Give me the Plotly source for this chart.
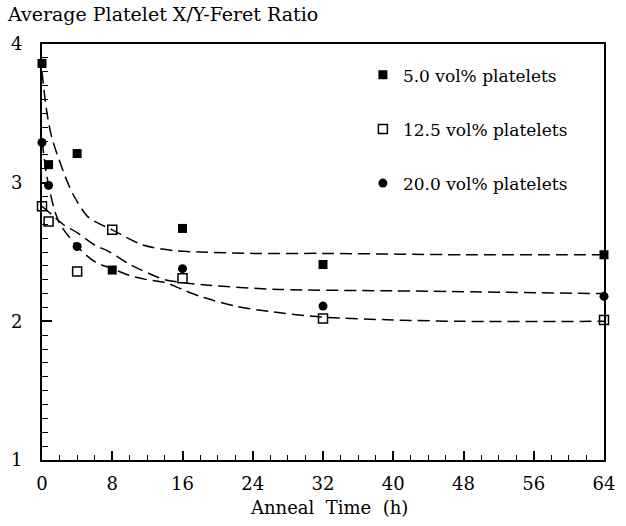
import plotly.graph_objects as go

# ---- data ----
t5 = [0, 0.75, 4, 8, 16, 32, 64]
y5 = [3.86, 3.13, 3.21, 2.37, 2.67, 2.41, 2.48]

t125 = [0, 0.75, 4, 8, 16, 32, 64]
y125 = [2.83, 2.72, 2.36, 2.66, 2.31, 2.02, 2.01]

t20 = [0, 0.75, 4, 16, 32, 64]
y20 = [3.29, 2.98, 2.54, 2.38, 2.11, 2.18]

# dashed fit curves
fit5_t = [0, 0.5, 1.1, 2.2, 3.5, 5.3, 8, 11.5, 15, 18, 24, 32, 48, 64]
fit5_y = [3.80, 3.53, 3.33, 3.12, 2.92, 2.75, 2.66, 2.55, 2.51, 2.50, 2.49, 2.49, 2.48, 2.48]

fitA_t = [0, 0.75, 1.9, 4, 6, 8, 10, 12, 14, 16, 18, 22, 26, 32, 40, 48, 64]
fitA_y = [3.30, 2.98, 2.72, 2.54, 2.43, 2.38, 2.33, 2.30, 2.28, 2.23, 2.18, 2.11, 2.07, 2.03, 2.01, 2.00, 2.00]

fitB_t = [0, 1.1, 2.6, 4, 6, 7.4, 8.5, 10, 12, 14, 16, 19, 27, 40, 64]
fitB_y = [2.83, 2.77, 2.69, 2.64, 2.55, 2.51, 2.47, 2.41, 2.35, 2.30, 2.28, 2.26, 2.23, 2.22, 2.20]

x_ticks = [0, 8, 16, 24, 32, 40, 48, 56, 64]
y_ticks = [1, 2, 3, 4]

names = ["5.0 vol% platelets", "12.5 vol% platelets", "20.0 vol% platelets"]

FONT = "DejaVu Serif"
dash = "12px,6px"

fig = go.Figure()
for ft, fy in [(fit5_t, fit5_y), (fitA_t, fitA_y), (fitB_t, fitB_y)]:
    fig.add_trace(go.Scatter(x=ft, y=fy, mode="lines", showlegend=False,
                             line=dict(color="black", width=1.5, dash=dash, shape="spline", smoothing=0.8),
                             hoverinfo="skip", cliponaxis=False))

fig.add_trace(go.Scatter(x=t5, y=y5, mode="markers", name=names[0], legendgroup="a",
                         marker=dict(symbol="square", size=9, color="black"), cliponaxis=False))
fig.add_trace(go.Scatter(x=t125, y=y125, mode="markers", name=names[1], legendgroup="b",
                         marker=dict(symbol="square-open", size=9, color="black", line=dict(width=1.5)),
                         cliponaxis=False))
fig.add_trace(go.Scatter(x=t20, y=y20, mode="markers", name=names[2], legendgroup="c",
                         marker=dict(symbol="circle", size=9, color="black"), cliponaxis=False))

fig.update_layout(
    width=626, height=526,
    margin=dict(l=35, r=11, t=44, b=66),
    paper_bgcolor="white", plot_bgcolor="white",
    font=dict(family=FONT, size=18, color="black"),
    legend=dict(x=0.571, y=0.968, xanchor="left", yanchor="top", bgcolor="rgba(0,0,0,0)",
                font=dict(family=FONT, size=17), tracegroupgap=29, itemsizing="trace"),
    xaxis=dict(range=[0, 64], tickmode="array", tickvals=x_ticks, ticktext=[str(v) for v in x_ticks],
               ticks="inside", ticklen=9, tickwidth=1.5, tickcolor="black",
               minor=dict(dtick=2, ticks="inside", ticklen=5, tickwidth=1.2, tickcolor="black"),
               showline=True, linewidth=2, linecolor="black", mirror=True, showgrid=False,
               zeroline=False, ticklabelstandoff=6, tickfont=dict(family=FONT, size=18)),
    yaxis=dict(range=[1, 4], tickmode="array", tickvals=y_ticks, ticktext=[str(v) for v in y_ticks],
               ticks="inside", ticklen=10, tickwidth=1.5, tickcolor="black",
               minor=dict(dtick=0.1, ticks="inside", ticklen=6, tickwidth=1.2, tickcolor="black"),
               showline=True, linewidth=2, linecolor="black", mirror=True, showgrid=False,
               zeroline=False, ticklabelstandoff=14, tickfont=dict(family=FONT, size=18)),
    annotations=[
        dict(text="Average Platelet X/Y-Feret Ratio", xref="paper", yref="paper",
             x=-0.066, y=1.072, xanchor="left", yanchor="middle", showarrow=False,
             font=dict(family=FONT, size=19)),
        dict(text="Anneal\u00a0 Time\u00a0 (h)", xref="paper", yref="paper",
             x=0.51, y=-0.115, xanchor="center", yanchor="middle", showarrow=False,
             font=dict(family=FONT, size=18)),
    ],
)

fig.write_html("out.html")
